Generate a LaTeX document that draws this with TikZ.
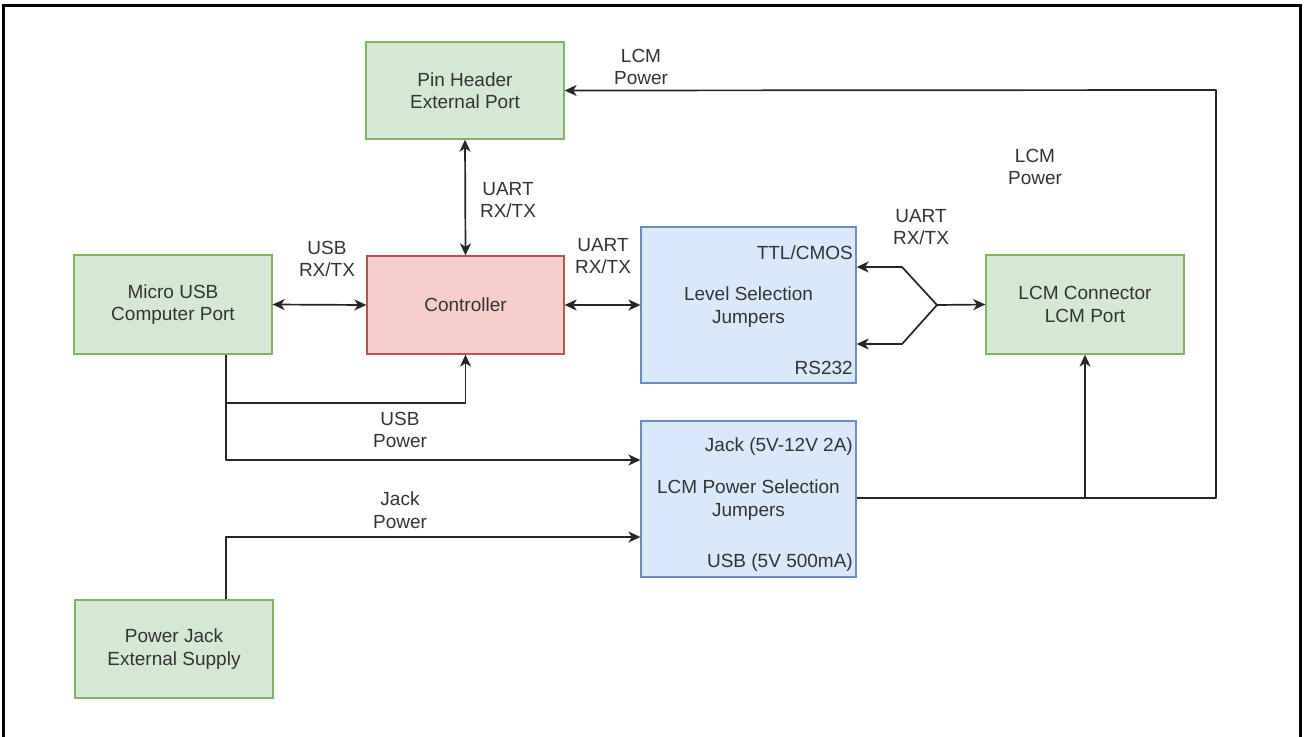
\documentclass[tikz,border=0pt]{standalone}
\usepackage{fontspec}
\setmainfont{Liberation Sans}
\usetikzlibrary{arrows.meta}
\definecolor{gfill}{HTML}{D5E8D4}\definecolor{gdraw}{HTML}{82B366}
\definecolor{rfill}{HTML}{F8CECC}\definecolor{rdraw}{HTML}{B85450}
\definecolor{bfill}{HTML}{DAE8FC}\definecolor{bdraw}{HTML}{6C8EBF}
\definecolor{txt}{HTML}{333333}
\begin{document}
\begin{tikzpicture}[x=1pt,y=-1pt,
  font=\fontsize{19}{22.5}\selectfont,
  box/.style={draw, line width=1.3pt, text=txt, align=center, inner sep=0pt},
  gbox/.style={box, fill=gfill, draw=gdraw},
  rbox/.style={box, fill=rfill, draw=rdraw},
  bbox/.style={box, fill=bfill, draw=bdraw},
  lbl/.style={text=txt, align=center, inner sep=0pt},
  conn/.style={draw=black!85, line width=1.7pt, line join=round},
  tip/.style={-{Stealth[length=12pt,width=11pt,inset=3.5pt]}},
  tips/.style={{Stealth[length=12pt,width=11pt,inset=3.5pt]}-{Stealth[length=12pt,width=11pt,inset=3.5pt]}}]
\useasboundingbox (0,0) rectangle (1305,736);
% frame
\draw[line width=3pt] (3,740) -- (3,5) -- (1300,5) -- (1300,740);
% nodes
\node[gbox, minimum width=198pt, minimum height=97pt] (pin) at (465,90.5) {Pin Header\\External Port};
\node[gbox, minimum width=198pt, minimum height=99pt] (usb) at (173,304.5) {Micro USB\\Computer Port};
\node[rbox, minimum width=197pt, minimum height=98pt] (ctrl) at (465.5,305) {Controller};
\node[bbox, minimum width=215pt, minimum height=156pt] (lvl) at (748.5,305) {};
\node[gbox, minimum width=198pt, minimum height=99pt] (lcm) at (1085,304.5) {LCM Connector\\LCM Port};
\node[bbox, minimum width=215pt, minimum height=156pt] (pws) at (748.5,499) {};
\node[gbox, minimum width=198pt, minimum height=98pt] (jack) at (174,649) {Power Jack\\External Supply};
% texts inside blue boxes
\node[lbl] (lvlt) at (748.5,307) {Level Selection\\Jumpers};
\node[lbl, anchor=east] (ttl) at (853,253) {TTL/CMOS};
\node[lbl, anchor=east] (rs) at (853,368) {RS232};
\node[lbl] (pwst) at (748.5,500) {LCM Power Selection\\Jumpers};
\node[lbl, anchor=east] (jk) at (853,447) {Jack (5V-12V 2A)};
\node[lbl, anchor=east] (us) at (853,563) {USB (5V 500mA)};
% coordinates
\coordinate (jL) at (937,305);
\coordinate (jT) at (902,267);
\coordinate (jB) at (902,344);
\coordinate (tT) at (lvl.east |- jT);
\coordinate (tB) at (lvl.east |- jB);
\coordinate (u1) at (226,403);
\coordinate (u2) at (226,460);
\coordinate (j1) at (226,537);
\coordinate (p1) at (1085,498);
\coordinate (p2) at (1216,498);
\coordinate (p3) at (1216,90);
% connectors
\draw[conn, tips] (pin.south) -- (ctrl.north);
\draw[conn, tips] (usb.east) -- (ctrl.west);
\draw[conn, tips] (ctrl.east) -- (lvl.west);
\draw[conn, tip] (usb.south -| u1) -- (u1) -- (u1 -| ctrl.south) -- (ctrl.south);
\draw[conn, tip] (u1) -- (u2) -- (u2 -| pws.west);
\draw[conn, tip] (jack.north -| j1) -- (j1) -- (j1 -| pws.west);
\draw[conn, tip] (pws.east |- p1) -- (p1) -- (lcm.south);
\draw[conn, tip] (p1) -- (p2) -- (p3) -- (pin.east);
\draw[conn, tip] (jL) -- (lcm.west);
\draw[conn, tip] (jL) -- (jT) -- (tT);
\draw[conn, tip] (jL) -- (jB) -- (tB);
% labels
\node[lbl] (l1) at (508,200) {UART\\RX/TX};
\node[lbl] (l2) at (327,259) {USB\\RX/TX};
\node[lbl] (l3) at (603,256) {UART\\RX/TX};
\node[lbl] (l4) at (921,227) {UART\\RX/TX};
\node[lbl] (l5) at (400,430) {USB\\Power};
\node[lbl] (l6) at (400,510) {Jack\\Power};
\node[lbl] (l7) at (641,67) {LCM\\Power};
\node[lbl] (l8) at (1035,167) {LCM\\Power};
\end{tikzpicture}
\end{document}
